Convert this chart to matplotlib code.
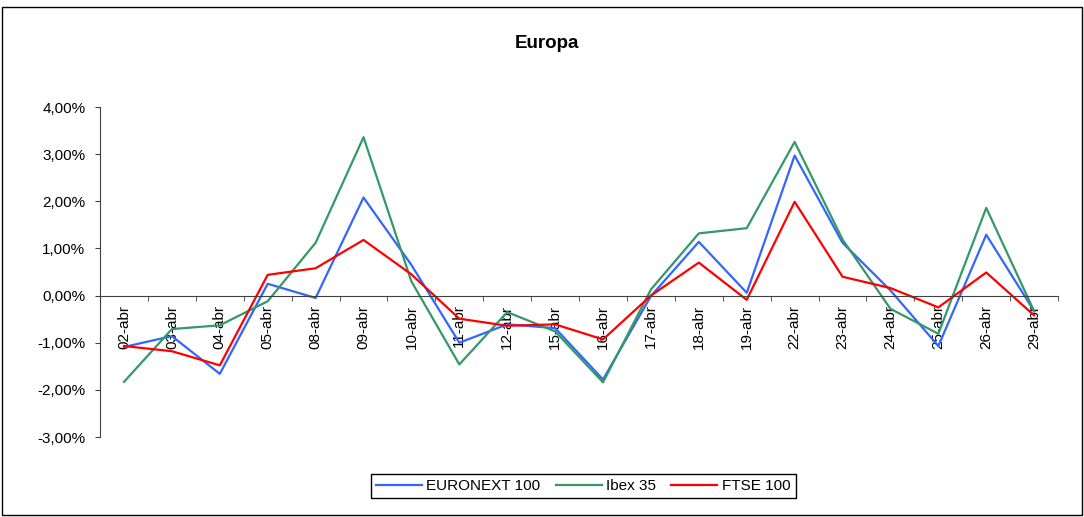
import matplotlib
matplotlib.use('Agg')
import matplotlib.pyplot as plt
from matplotlib.ticker import FuncFormatter, FixedLocator
from matplotlib.patches import Rectangle

plt.rcParams['font.family'] = ['Liberation Sans', 'DejaVu Sans']

dates = ['02-abr', '03-abr', '04-abr', '05-abr', '08-abr', '09-abr', '10-abr',
         '11-abr', '12-abr', '15-abr', '16-abr', '17-abr', '18-abr', '19-abr',
         '22-abr', '23-abr', '24-abr', '25-abr', '26-abr', '29-abr']

# daily change in %
euronext = [-1.09, -0.86, -1.66, 0.25, -0.05, 2.08, 0.65, -1.00, -0.61, -0.69,
            -1.78, -0.01, 1.14, 0.06, 2.97, 1.12, 0.11, -1.07, 1.29, -0.33]
ibex = [-1.83, -0.71, -0.63, -0.12, 1.12, 3.36, 0.30, -1.46, -0.35, -0.76,
        -1.84, 0.13, 1.32, 1.43, 3.26, 1.19, -0.28, -0.81, 1.86, -0.33]
ftse = [-1.07, -1.18, -1.48, 0.44, 0.58, 1.18, 0.45, -0.49, -0.64, -0.61,
        -0.93, 0.00, 0.70, -0.09, 1.99, 0.40, 0.16, -0.25, 0.49, -0.42]

fig = plt.figure(figsize=(10.84, 5.17), dpi=100)
ax = fig.add_axes([0.0923, 0.1547, 0.8838, 0.6383])

x = list(range(len(dates)))
ax.plot(x, euronext, color='#3366FF', lw=1.6, label='EURONEXT 100')
ax.plot(x, ibex, color='#339966', lw=1.6, label='Ibex 35')
ax.plot(x, ftse, color='#FF0000', lw=1.6, label='FTSE 100')

ax.set_xlim(-0.5, len(dates) - 0.5)
ax.set_ylim(-3, 4)

# axis styling like an old spreadsheet chart
ax.spines['top'].set_visible(False)
ax.spines['right'].set_visible(False)
ax.spines['bottom'].set_position(('data', 0))
ax.spines['bottom'].set_color('#404040')
ax.spines['left'].set_color('#404040')

ax.set_yticks([-3, -2, -1, 0, 1, 2, 3, 4])
ax.yaxis.set_major_formatter(FuncFormatter(lambda v, p: f'{v:.2f}%'.replace('.', ',')))
ax.tick_params(axis='y', direction='out', length=3.6, pad=7, labelsize=11, color='#404040')

ax.set_xticks(x)
ax.set_xticklabels(dates, rotation=90, va='top', ha='center')
ax.tick_params(axis='x', which='major', length=0, pad=6.5, labelsize=11)
ax.xaxis.set_minor_locator(FixedLocator([i - 0.5 for i in range(len(dates) + 1)]))
ax.tick_params(axis='x', which='minor', direction='out', length=3.6, color='#404040')

fig.text(0.505, 0.915, 'Europa', ha='center', va='center', fontsize=13.5, fontweight='bold')

ax.legend(loc='center', bbox_to_anchor=(0.538, 0.06), bbox_transform=fig.transFigure,
          ncol=3, fontsize=11, frameon=True, fancybox=False, edgecolor='black',
          framealpha=1, handlelength=3, handletextpad=0.3, columnspacing=1.0,
          borderpad=0.35)

fig.patches.append(Rectangle((0.0023, 0.004), 0.9957, 0.9815, transform=fig.transFigure,
                             fill=False, lw=1, ec='black'))

fig.savefig('out.png', dpi=100)
